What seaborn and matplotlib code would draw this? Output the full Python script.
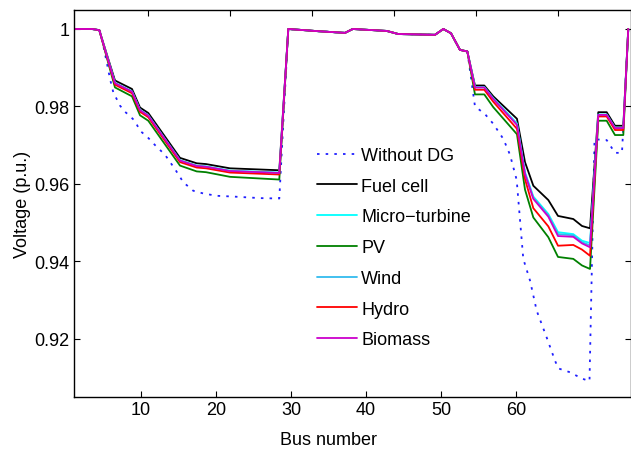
import numpy as np
import pandas as pd
import matplotlib
matplotlib.use("Agg")
import matplotlib.pyplot as plt
import seaborn as sns

# ---------------- data ----------------
# plotted positions of the vertices of the DG curves (axis units)
bus_dg = [1.0, 3.47, 4.44, 6.53, 8.8, 9.87, 10.97, 15.2, 17.43, 18.67, 21.87, 28.44,
          29.64, 33.87, 37.2, 38.23, 42.76, 44.31, 49.2, 50.31, 51.33, 52.53, 53.51,
          54.53, 55.77, 56.97, 60.13, 61.2, 62.31, 64.31, 65.6, 67.64, 68.8, 69.87,
          70.97, 72.09, 73.2, 74.31, 74.97]

sec2 = [1.0, 0.9994, 0.9990, 1.0, 0.9995, 0.9987, 0.9985, 1.0, 0.9989, 0.9946, 0.9942]

fuel_cell = ([1.0, 1.0, 0.9997, 0.9867, 0.9845, 0.9797, 0.9783, 0.9667, 0.9653, 0.9651, 0.9640, 0.9635]
             + sec2 +
             [0.9854, 0.9854, 0.9826, 0.9768, 0.9656, 0.9595, 0.9558, 0.9517, 0.9509, 0.9491, 0.9485,
              0.9785, 0.9785, 0.9750, 0.9750, 1.0])
micro_turbine = ([1.0, 1.0, 0.9997, 0.9861, 0.9839, 0.9791, 0.9777, 0.9661, 0.9647, 0.9645, 0.9634, 0.9629]
                 + sec2 +
                 [0.9850, 0.9850, 0.9821, 0.9756, 0.9630, 0.9567, 0.9522, 0.9475, 0.9470, 0.9453, 0.9447,
                  0.9779, 0.9779, 0.9745, 0.9745, 1.0])
pv = ([1.0, 1.0, 0.9997, 0.9849, 0.9826, 0.9777, 0.9763, 0.9647, 0.9632, 0.9630, 0.9618, 0.9611]
      + sec2 +
      [0.9831, 0.9831, 0.9798, 0.9728, 0.9585, 0.9513, 0.9462, 0.9411, 0.9406, 0.9389, 0.9380,
       0.9763, 0.9763, 0.9726, 0.9726, 1.0])
wind = ([1.0, 1.0, 0.9997, 0.9860, 0.9838, 0.9790, 0.9776, 0.9660, 0.9646, 0.9644, 0.9633, 0.9628]
        + sec2 +
        [0.9849, 0.9849, 0.9820, 0.9754, 0.9627, 0.9564, 0.9519, 0.9470, 0.9467, 0.9449, 0.9441,
         0.9778, 0.9778, 0.9744, 0.9744, 1.0])
hydro = ([1.0, 1.0, 0.9997, 0.9856, 0.9834, 0.9786, 0.9772, 0.9656, 0.9642, 0.9640, 0.9629, 0.9624]
         + sec2 +
         [0.9843, 0.9843, 0.9812, 0.9742, 0.9612, 0.9537, 0.9490, 0.9440, 0.9442, 0.9430, 0.9414,
          0.9774, 0.9774, 0.9739, 0.9739, 1.0])
biomass = ([1.0, 1.0, 0.9997, 0.9860, 0.9838, 0.9790, 0.9776, 0.9660, 0.9646, 0.9644, 0.9633, 0.9628]
           + sec2 +
           [0.9849, 0.9849, 0.9819, 0.9752, 0.9625, 0.9561, 0.9515, 0.9465, 0.9463, 0.9446, 0.9436,
            0.9778, 0.9778, 0.9744, 0.9744, 1.0])

bus_base = [1.0, 3.47, 4.53, 4.97, 5.43, 5.87, 6.31, 6.76, 7.2, 7.87, 8.53, 9.2, 9.87, 10.8,
            11.87, 13.2, 14.53, 15.64, 16.97, 18.31, 20.09, 22.31, 25.87, 28.44,
            29.64, 33.87, 37.2, 38.23, 42.76, 44.31, 49.2, 50.31, 51.33, 52.53, 53.51,
            54.53, 55.87, 56.97, 58.31, 59.2, 60.09, 60.97, 61.87, 62.76, 64.09, 65.2,
            65.64, 67.2, 68.76, 69.8, 70.47, 72.09, 73.2, 74.13, 74.97]
without_dg = ([1.0, 1.0, 0.9995, 0.9957, 0.9914, 0.9871, 0.9836, 0.9819, 0.9802, 0.9786, 0.9775,
               0.9762, 0.9737, 0.9722, 0.9700, 0.9675, 0.9638, 0.9604, 0.9582, 0.9575, 0.9569,
               0.9567, 0.9563, 0.9562]
              + sec2 +
              [0.9800, 0.9780, 0.9755, 0.9716, 0.9675, 0.9610, 0.9406, 0.9350, 0.9272, 0.9203,
               0.9143, 0.9123, 0.9113, 0.9097, 0.9090, 0.9715, 0.9713, 0.9680, 0.9680, 1.0])

x_ticks = [10, 20, 30, 40, 50, 60]
y_ticks = [0.92, 0.94, 0.96, 0.98, 1.0]
y_ticklabels = ["0.92", "0.94", "0.96", "0.98", "1"]

series = [
    ("Without DG", bus_base, without_dg, "#2020ff"),
    ("Fuel cell", bus_dg, fuel_cell, "black"),
    ("Micro\u2212turbine", bus_dg, micro_turbine, "#00ffff"),
    ("PV", bus_dg, pv, "#008000"),
    ("Wind", bus_dg, wind, "#33bbee"),
    ("Hydro", bus_dg, hydro, "#ff0000"),
    ("Biomass", bus_dg, biomass, "#cc00cc"),
]

# ---------------- style ----------------
sns.set_theme(style="white")
plt.rcParams["font.family"] = ["Liberation Sans", "DejaVu Sans"]
fs = 13

W, H = 631, 452
fig = plt.figure(figsize=(W / 100, H / 100), dpi=100)
left, right, top, bottom = 73.5, 630.5, 10.65, 397.65
ax = fig.add_axes([left / W, 1 - bottom / H, (right - left) / W, (bottom - top) / H])

for name, xs, ys, col in series:
    df = pd.DataFrame({"bus": xs, "v": ys})
    sns.lineplot(data=df, x="bus", y="v", ax=ax, color=col, lw=1.3,
                 label=name, errorbar=None, sort=False)
    if name == "Without DG":
        ax.lines[-1].set_linestyle((0, (1.4, 3.4)))

ax.set_xlim(1, 1 + (right - left) / 7.5)
ax.set_ylim(0.905, 1.005)
ax.set_xticks(x_ticks)
ax.set_yticks(y_ticks)
ax.set_yticklabels(y_ticklabels)
ax.tick_params(axis="both", direction="in", length=4, width=0.8, colors="black",
               labelsize=fs, pad=3)
ax.tick_params(axis="y", right=True, left=True)
ax.tick_params(axis="x", bottom=True, top=False)
for s in ax.spines.values():
    s.set_color("black")
    s.set_linewidth(1.0)

ax.set_xlabel("Bus number", fontsize=fs, color="black", labelpad=0)
ax.set_ylabel("Voltage (p.u.)", fontsize=fs, color="black")
ax.xaxis.set_label_coords((328 - left) / (right - left), -0.088)
ax.yaxis.set_label_coords(-0.077, 0.5)

# second (top) axis ticks, as in the reference
ax2 = ax.twiny()
ax2.set_xlim(0.865, 68.89)
ax2.set_xticks(x_ticks)
ax2.set_xticklabels([])
ax2.tick_params(axis="x", direction="in", length=4, width=0.8, colors="black", top=True)
for s in ax2.spines.values():
    s.set_visible(False)

leg = ax.legend(loc="upper left", bbox_to_anchor=(316.7 / W, 1 - 148 / H),
                bbox_transform=fig.transFigure, frameon=False, fontsize=fs,
                handlelength=40 / (fs * 100 / 72), handletextpad=0.25,
                labelspacing=0.76, borderpad=0, borderaxespad=0)
for t in leg.get_texts():
    t.set_color("black")

fig.savefig("out.png", dpi=100)
